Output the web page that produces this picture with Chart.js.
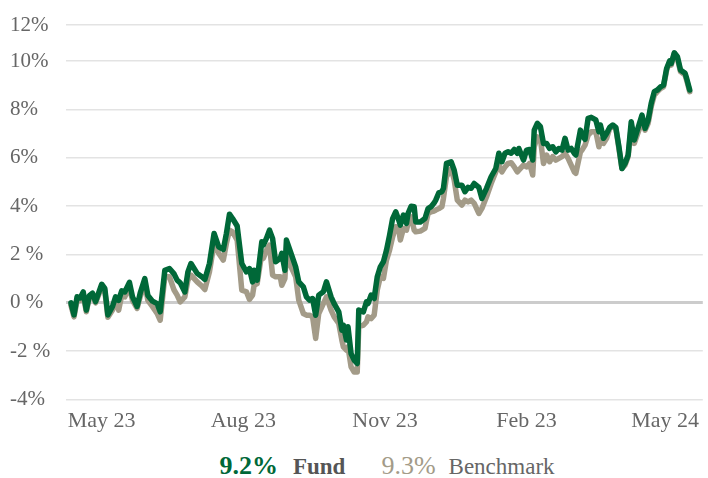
<!DOCTYPE html>
<html>
<head>
<meta charset="utf-8">
<script src="https://cdn.jsdelivr.net/npm/chart.js@4"></script>
<style>
  body { margin: 0; background: #fff; font-family: "Liberation Serif", serif; }
  #wrap { position: relative; width: 708px; height: 478px; }
  #chartBox { position: absolute; left: 0; top: 0; width: 708px; height: 440px; }
  #legend {
    position: absolute; left: 66px; right: 0; top: 451px;
    display: flex; justify-content: center; align-items: baseline;
    line-height: 30px; white-space: nowrap;
  }
  .fundVal { color: #006838; font-weight: bold; font-size: 26px; }
  .fundName { color: #555; font-weight: bold; font-size: 23px; margin-left: 15px; }
  .benchVal { color: #a39b88; font-size: 26px; margin-left: 36px; }
  .benchName { color: #666; font-size: 23px; margin-left: 13px; }
</style>
</head>
<body>
<div id="wrap">
  <div id="chartBox"><canvas id="perfChart" width="708" height="440"></canvas></div>
  <div id="legend">
    <span class="fundVal">9.2%</span><span class="fundName">Fund</span>
    <span class="benchVal">9.3%</span><span class="benchName">Benchmark</span>
  </div>
</div>
<script>
// days counted from 1 May 2023
const days = [
  -20, -18, -16, -14, -12, -10, -8, -6, -4, 0, 2, 4, 7, 9, 11, 13, 15, 18, 20, 23,
  25, 28, 30, 33, 36, 38, 41, 44, 47, 49, 51, 54, 56, 58,
  62, 65, 67, 70, 73, 76, 79, 81, 83, 85, 88, 91, 94, 96, 98, 99, 101, 104, 105, 107,
  109, 111, 113, 116, 117, 119, 120, 123, 126, 128, 131, 133, 135, 137, 139, 141,
  144, 146, 149, 151, 154, 156, 157, 159, 160, 162, 164, 166, 167, 170, 172, 173, 175, 177,
  179, 181, 183, 185, 187, 189, 191, 193, 194, 196, 198, 199, 201, 203, 204, 207, 210, 212,
  214, 216, 217, 219, 221, 222, 224,
  227, 229, 231, 234, 236, 238, 240, 242, 245, 247, 250, 253, 256, 258, 260, 262, 264, 266,
  268, 270, 271, 274, 276, 278, 280, 281, 283, 285, 287, 289, 291, 293, 295, 297, 299, 301,
  303, 305,
  307, 308, 311, 312, 314, 316, 318, 321, 323, 324, 326, 328, 330, 332, 334, 336, 338, 340,
  342, 344, 346, 349, 351, 353, 355, 357, 359, 361, 363, 365, 367, 369, 370, 372, 374, 376,
  379, 380, 382
];

const fund = [
  0.0, -0.5, 0.25, 0.2, 0.45, -0.3, 0.3, 0.4, 0.05, 0.77, 0.6, -0.5, -0.15, 0.25, 0.1, 0.5, 0.45, 0.85, 0.25, -0.15,
  0.4, 1.0, 0.3, 0.07, -0.03, -0.37, 1.35, 1.42, 1.2, 0.94, 0.83, 0.45, 1.28, 1.63,
  1.22, 1.08, 0.97, 1.63, 2.87, 2.32, 2.21, 2.87, 3.67, 3.49, 3.18, 1.63, 1.28, 1.42, 0.87, 1.35, 0.94, 2.53, 2.39, 2.67,
  3.01, 2.67, 1.7, 1.84, 2.05, 1.35, 2.6, 2.05, 1.49, 0.87, 0.66, 0.25, 0.11, 0.18, -0.51, 0.32,
  0.46, 0.87, 0.25, -0.03, -0.37, -1.13, -0.92, -1.54, -0.99, -2.1, -2.37, -2.51, -0.3, -0.37, 0.04, -0.03, 0.32, 0.18,
  1.08, 1.49, 1.7, 2.18, 2.8, 3.49, 3.77, 3.42, 3.22, 3.63, 3.29, 3.7, 4.0, 3.98, 3.35, 3.35, 3.49, 3.9,
  3.98, 4.14, 4.25, 4.55, 4.6, 4.74, 5.77,
  5.84, 5.49, 4.87, 4.87, 4.6, 4.78, 4.74, 4.94, 4.78, 4.32, 4.74, 5.22, 5.56, 6.19, 5.84, 6.19, 6.25, 6.19,
  6.35, 6.19, 6.39, 5.91, 6.32, 6.35, 5.91, 7.15, 7.43, 7.29, 6.6, 6.6, 6.39, 6.46, 6.25, 6.39, 6.32, 6.81,
  6.32, 6.39,
  6.19, 6.12, 7.15, 6.94, 6.77, 7.64, 7.68, 7.57, 7.08, 7.36, 6.81, 7.01, 7.26, 7.36, 7.26, 6.46, 5.56, 5.77,
  6.12, 7.5, 6.74, 7.36, 7.77, 7.22, 7.57, 8.26, 8.74, 8.81, 8.94, 9.01, 9.7, 10.02, 9.91, 10.35, 10.19, 9.64,
  9.5, 9.29, 8.81
];

const benchmark = [
  -0.1, -0.58, 0.1, 0.1, 0.32, -0.37, 0.25, 0.32, 0.0, 0.66, 0.5, -0.6, -0.3, 0.11, -0.3, 0.32, 0.25, 0.66, 0.1, -0.23,
  0.25, 0.8, 0.1, -0.16, -0.44, -0.72, 1.08, 1.08, 0.53, 0.32, 0.04, 0.25, 0.94, 1.15,
  0.87, 0.7, 0.55, 1.28, 2.46, 2.05, 1.77, 2.46, 3.01, 2.94, 2.6, 0.53, 0.46, 0.14, 0.32, 0.73, 0.8, 2.05, 1.84, 2.18,
  2.39, 1.15, 1.08, 1.08, 0.73, 1.0, 2.05, 1.49, 1.08, 0.11, -0.44, -0.51, -0.51, -0.58, -1.47, -0.44,
  -0.03, 0.25, -0.3, -0.58, -0.85, -1.54, -1.82, -1.96, -1.82, -2.65, -2.86, -2.86, -0.99, -0.92, -0.79, -0.58, -0.65, -0.51,
  0.53, 1.08, 1.01, 1.77, 2.18, 2.73, 3.15, 3.01, 2.6, 3.08, 3.01, 3.29, 3.56, 3.01, 2.94, 2.97, 3.08, 3.7,
  3.77, 3.8, 3.84, 3.9, 3.98, 4.32, 5.22,
  5.56, 5.08, 4.25, 4.05, 4.25, 4.18, 4.25, 4.12, 3.7, 3.91, 4.39, 4.94, 5.42, 5.7, 5.42, 5.63, 5.77, 5.8,
  5.63, 5.42, 5.49, 5.7, 5.63, 5.77, 5.29, 6.46, 6.87, 6.8, 5.77, 6.12, 5.84, 6.05, 5.91, 5.98, 6.05, 6.19,
  5.98, 5.7,
  5.42, 5.36, 6.25, 6.32, 6.53, 6.94, 7.08, 7.08, 6.46, 6.74, 6.6, 6.81, 7.22, 7.29, 7.22, 6.39, 5.56, 5.7,
  6.05, 7.29, 6.6, 7.15, 7.57, 7.15, 7.43, 8.12, 8.6, 8.74, 8.87, 8.94, 9.63, 9.98, 9.84, 10.32, 10.12, 9.57,
  9.43, 9.22, 8.74
];

const xTickDays = [0, 92, 184, 276, 366];
const xTickLabels = ["May 23", "Aug 23", "Nov 23", "Feb 23", "May 24"];
const yTickValues = [-4, -2, 0, 2, 4, 6, 8, 10, 11.5];
const yTickLabels = ["-4%", "-2 %", "0 %", "2 %", "4%", "6%", "8%", "10%", "12%"];

const serif = "'Liberation Serif', 'Times New Roman', serif";

function toPoints(values) {
  return values.map((v, i) => ({ x: days[i], y: v }));
}

const ctx = document.getElementById("perfChart").getContext("2d");
new Chart(ctx, {
  type: "line",
  data: {
    datasets: [
      {
        label: "Fund",
        data: toPoints(fund),
        borderColor: "#006838",
        borderWidth: 5.5,
        pointRadius: 0,
        tension: 0,
        borderJoinStyle: "round",
        borderCapStyle: "round",
      },
      {
        label: "Benchmark",
        data: toPoints(benchmark),
        borderColor: "#a39b88",
        borderWidth: 5.5,
        pointRadius: 0,
        tension: 0,
        borderJoinStyle: "round",
        borderCapStyle: "round",
      },
    ],
  },
  options: {
    responsive: false,
    animation: false,
    devicePixelRatio: 1,
    layout: { padding: { top: 25, left: 10, right: 0, bottom: 0 } },
    plugins: { legend: { display: false }, tooltip: { enabled: false } },
    scales: {
      x: {
        type: "linear",
        min: -23.2,
        max: 390.5,
        grid: { display: false, drawTicks: false },
        border: { display: false },
        afterBuildTicks: (s) => { s.ticks = xTickDays.map((v) => ({ value: v })); },
        afterFit: (s) => { s.height = 40.5; },
        ticks: {
          padding: 9,
          maxRotation: 0,
          autoSkip: false,
          color: "#666",
          font: { family: serif, size: 22 },
          callback: (v, i) => xTickLabels[i],
        },
      },
      y: {
        min: -4,
        max: 11.5,
        border: { display: false },
        grid: {
          drawTicks: false,
          color: (c) => (c.tick && c.tick.value === 0 ? "#cccccc" : "#e3e3e3"),
          lineWidth: (c) => (c.tick && c.tick.value === 0 ? 3 : 1.5),
        },
        afterBuildTicks: (s) => { s.ticks = yTickValues.map((v) => ({ value: v })); },
        afterFit: (s) => { s.width = 56; },
        ticks: {
          crossAlign: "far",
          padding: 0,
          color: "#666",
          font: { family: serif, size: 21 },
          callback: (v, i) => yTickLabels[i],
        },
      },
    },
  },
});
</script>
</body>
</html>
